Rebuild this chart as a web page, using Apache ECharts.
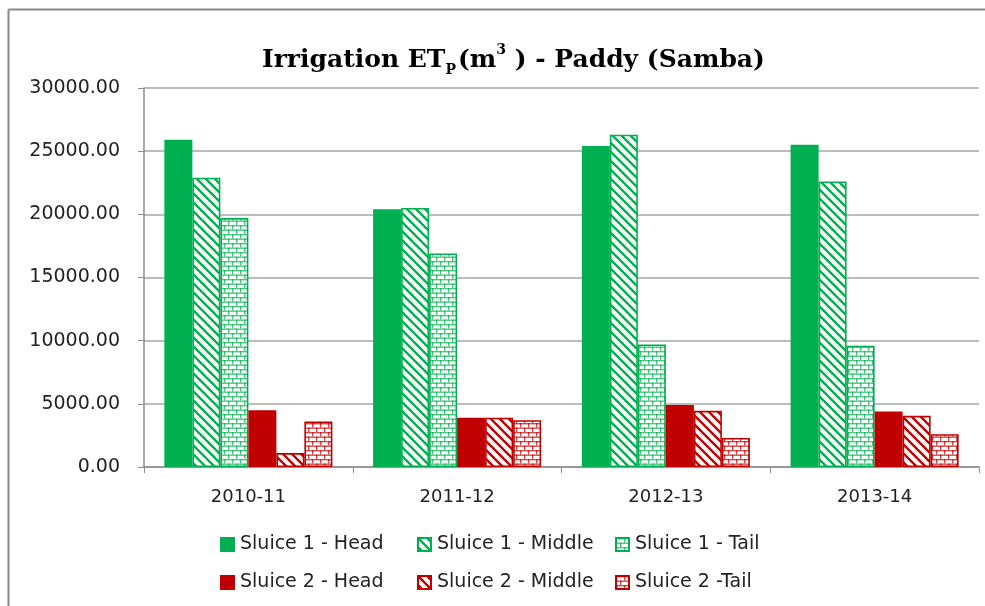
<!DOCTYPE html>
<html>
<head>
<meta charset="utf-8">
<script src="https://cdn.jsdelivr.net/npm/echarts@6/dist/echarts.min.js"></script>
<style>
html, body { margin: 0; padding: 0; background: #fff; overflow: hidden; }
#container { width: 985px; height: 606px; }
</style>
</head>
<body>
<div id="container"></div>
<script>
// data
var categories = ['2010-11', '2011-12', '2012-13', '2013-14'];
var seriesNames = ['Sluice 1 - Head', 'Sluice 1 - Middle', 'Sluice 1 - Tail',
                   'Sluice 2 - Head', 'Sluice 2 - Middle', 'Sluice 2 -Tail'];
var s1Head = [25900, 20400, 25400, 25500];
var s1Middle = [22900, 20500, 26300, 22600];
var s1Tail = [19700, 16900, 9700, 9600];
var s2Head = [4500, 3900, 4900, 4400];
var s2Middle = [1100, 3900, 4450, 4050];
var s2Tail = [3600, 3700, 2300, 2600];
var yTicks = [0, 5000, 10000, 15000, 20000, 25000, 30000];

var GREEN = '#00B050';
var RED = '#C00000';

// hatch patterns drawn on small canvases
function stripePattern(color) {
    var c = document.createElement('canvas');
    c.width = 9; c.height = 9;
    var ctx = c.getContext('2d');
    ctx.fillStyle = '#fff';
    ctx.fillRect(0, 0, 9, 9);
    ctx.strokeStyle = color;
    ctx.lineWidth = 2.4;
    [-9, 0, 9].forEach(function (x0) {
        ctx.beginPath();
        ctx.moveTo(x0 - 1, -1);
        ctx.lineTo(x0 + 10, 10);
        ctx.stroke();
    });
    return {image: c, repeat: 'repeat'};
}

function brickPattern(color) {
    var c = document.createElement('canvas');
    c.width = 8; c.height = 9;
    var ctx = c.getContext('2d');
    ctx.fillStyle = '#fff';
    ctx.fillRect(0, 0, 8, 9);
    ctx.fillStyle = color;
    ctx.globalAlpha = 0.7;
    ctx.fillRect(0, 0, 8, 1.4);
    ctx.fillRect(0, 4.5, 8, 1.4);
    ctx.fillRect(0, 0, 1.4, 4.5);
    ctx.fillRect(4, 4.5, 1.4, 4.5);
    return {image: c, repeat: 'repeat'};
}

var myChart = echarts.init(document.getElementById('container'));

function makeBar(name, data, fill, border) {
    return {
        name: name,
        type: 'bar',
        data: data,
        barGap: '0%',
        barCategoryGap: '19.5%',
        itemStyle: {color: fill, borderColor: border, borderWidth: 1.6},
        emphasis: {disabled: true}
    };
}

var series = [
    makeBar(seriesNames[0], s1Head, GREEN, GREEN),
    makeBar(seriesNames[1], s1Middle, stripePattern(GREEN), GREEN),
    makeBar(seriesNames[2], s1Tail, brickPattern(GREEN), GREEN),
    makeBar(seriesNames[3], s2Head, RED, RED),
    makeBar(seriesNames[4], s2Middle, stripePattern(RED), RED),
    makeBar(seriesNames[5], s2Tail, brickPattern(RED), RED)
];

// one legend per entry so the two rows line up like the picture
var legendLeft = [215, 412, 610, 215, 412, 610];
var legendTop = [530, 530, 530, 568, 568, 568];
var legends = seriesNames.map(function (n, i) {
    return {
        data: [n],
        left: legendLeft[i],
        top: legendTop[i],
        icon: 'rect',
        itemWidth: 13,
        itemHeight: 13,
        selectedMode: false,
        textStyle: {fontFamily: 'DejaVu Sans', fontSize: 19, color: '#222', padding: [0, 0, 0, 1]}
    };
});

var option = {
    animation: false,
    backgroundColor: '#fff',
    title: {
        text: '{a|Irrigation ET}{sub|P}{a|(m}{sup|3}{a| ) - Paddy (Samba)}',
        left: 257,
        top: 38,
        textStyle: {
            rich: {
                a: {fontFamily: 'DejaVu Serif', fontWeight: 'bold', fontSize: 25, color: '#000', lineHeight: 34},
                sub: {fontFamily: 'DejaVu Serif', fontWeight: 'bold', fontSize: 14, color: '#000', lineHeight: 34, verticalAlign: 'bottom', padding: [0, 2, 0, 0]},
                sup: {fontFamily: 'DejaVu Serif', fontWeight: 'bold', fontSize: 14, color: '#000', lineHeight: 34, verticalAlign: 'top', padding: [0, 0, 0, 0]}
            }
        }
    },
    legend: legends,
    grid: {left: 144, right: 6, top: 88, bottom: 139, containLabel: false},
    xAxis: {
        type: 'category',
        data: categories,
        axisLine: {lineStyle: {color: '#8c8c8c', width: 1.5}},
        axisTick: {show: true, length: 6, lineStyle: {color: '#8c8c8c'}},
        axisLabel: {fontFamily: 'DejaVu Sans', fontSize: 18, color: '#222', margin: 21}
    },
    yAxis: {
        type: 'value',
        min: yTicks[0],
        max: yTicks[yTicks.length - 1],
        interval: yTicks[1] - yTicks[0],
        axisLine: {show: true, lineStyle: {color: '#8c8c8c', width: 1.5}},
        axisTick: {show: true, length: 6, lineStyle: {color: '#8c8c8c'}},
        splitLine: {lineStyle: {color: '#a6a6a6', width: 1.5}},
        axisLabel: {
            fontFamily: 'DejaVu Sans', fontSize: 19, color: '#222', margin: 24,
            formatter: function (v) { return v.toFixed(2); }
        }
    },
    // outer frame: only its top and left edges fall inside the picture
    graphic: [{
        type: 'line',
        shape: {x1: 8.5, y1: 9.5, x2: 985, y2: 9.5},
        style: {stroke: '#888', lineWidth: 2},
        silent: true
    }, {
        type: 'line',
        shape: {x1: 8.5, y1: 9.5, x2: 8.5, y2: 606},
        style: {stroke: '#888', lineWidth: 2},
        silent: true
    }, {
        type: 'rect',
        shape: {x: 980, y: 11, width: 10, height: 600},
        style: {fill: '#fff'},
        z: 100,
        silent: true
    }],
    series: series
};

myChart.setOption(option);
</script>
</body>
</html>
